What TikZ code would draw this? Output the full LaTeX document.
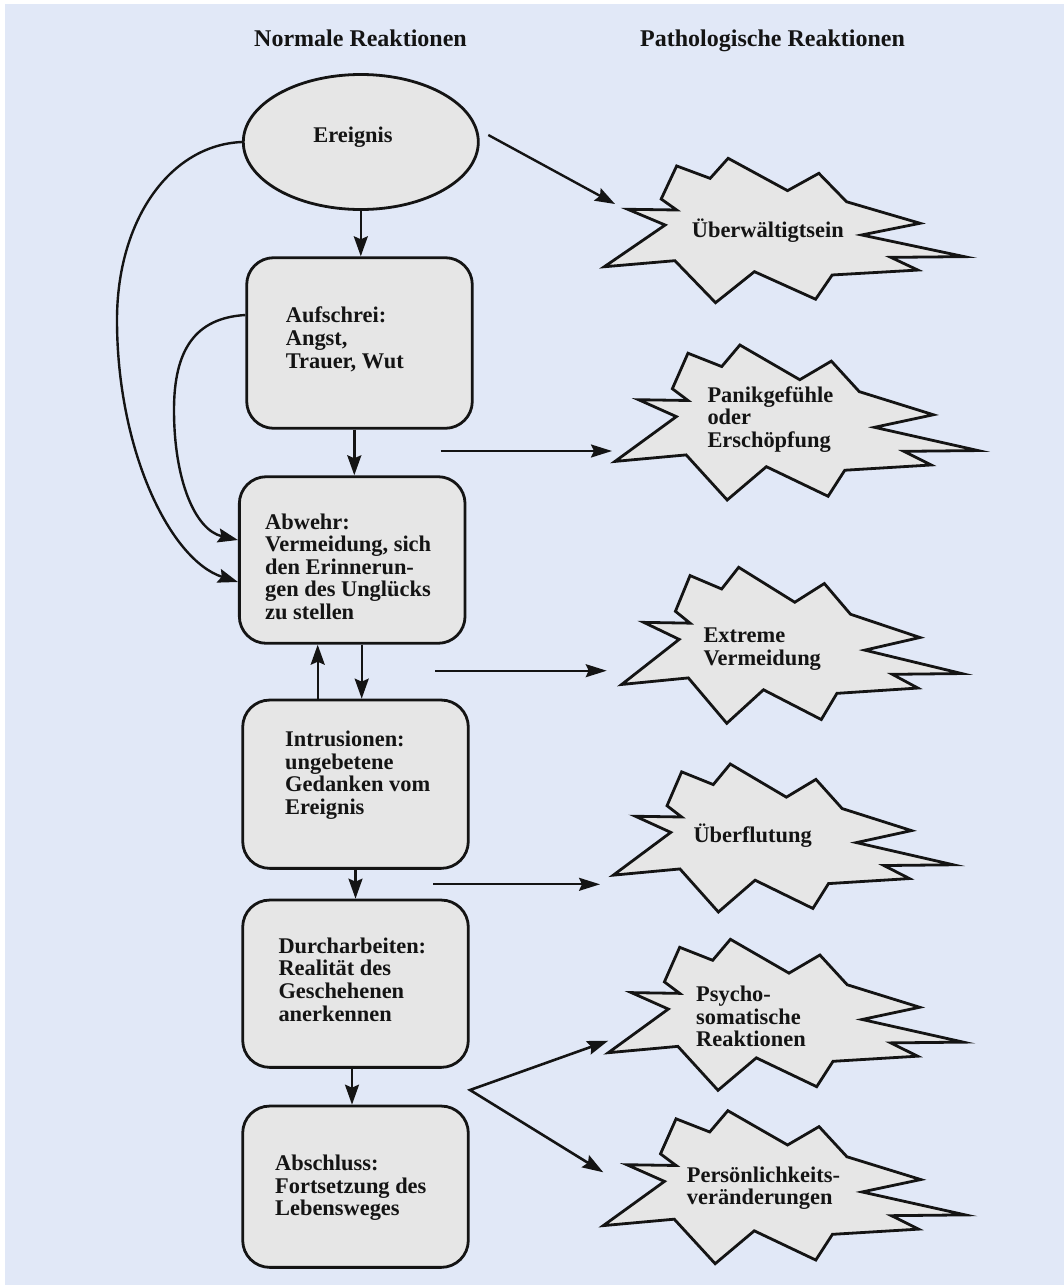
\documentclass[tikz,border=0pt]{standalone}
\usepackage{fontspec}
\setmainfont{Liberation Serif}
\usetikzlibrary{arrows.meta,shapes.geometric}
\definecolor{bgblue}{RGB}{225,232,247}
\definecolor{boxgray}{RGB}{230,230,230}
\definecolor{ink}{RGB}{20,20,20}

% starburst outline: #1 left, #2 top, #3 width, #4 height (all in pt, y downwards)
\newcommand\starburst[4]{%
  \begin{scope}[shift={(#1,#2)}, x=#3pt, y=-#4pt]
    \draw[burstline] (0.201,0.053) -- (0.294,0.139) -- (0.344,0) -- (0.509,0.224)
      -- (0.596,0.104) -- (0.673,0.301) -- (0.877,0.450) -- (0.715,0.531)
      -- (1,0.681) -- (0.796,0.686) -- (0.871,0.774) -- (0.633,0.808)
      -- (0.587,0.976) -- (0.417,0.785) -- (0.309,1) -- (0.196,0.709)
      -- (0,0.751) -- (0.169,0.462) -- (0.065,0.353) -- (0.201,0.358)
      -- (0.158,0.282) -- cycle;
  \end{scope}}

\begin{document}
\begin{tikzpicture}[x=1pt, y=-1pt,
  box/.style={draw=ink, line width=2.8pt, fill=boxgray, rounded corners=27pt, inner sep=0pt},
  txt/.style={font=\fontsize{22.4}{22.6}\selectfont\bfseries, text=ink, align=left, inner sep=0pt, anchor=west},
  head/.style={font=\fontsize{24}{26}\selectfont\bfseries, text=ink, inner sep=0pt, anchor=base west},
  arr/.style={draw=ink, line width=2.4pt, -{Stealth[length=20pt, width=14pt, inset=3pt]}},
  arrh/.style={draw=ink, line width=2pt, -{Stealth[length=21pt, width=13pt, inset=3pt]}},
  burstline/.style={draw=ink, fill=boxgray, line width=2.8pt, line join=miter},
]
\useasboundingbox (0,0) rectangle (1064,1285);
\fill[white] (0,0) rectangle (1064,1285);
\fill[bgblue] (5,4) rectangle (1064,1285);

% column headings
\node[head] (hnorm) at (254,46) {Normale Reaktionen};
\node[head] (hpath) at (640,46) {Pathologische Reaktionen};

% normal reactions
\node[draw=ink, ellipse, line width=2.8pt, fill=boxgray, minimum width=235pt,
      minimum height=135pt, inner sep=0pt] (ereignis) at (360.8,142) {};
\node[txt, anchor=center] (ereignis-t) at (353,137) {Ereignis};

\node[box, minimum width=225.6pt, minimum height=170.6pt] (aufschrei) at (359.5,343) {};
\node[txt] (aufschrei-t) at (285.7,339.3) {Aufschrei:\\Angst,\\Trauer, Wut};

\node[box, minimum width=225.7pt, minimum height=166.6pt] (abwehr) at (352.2,560) {};
\node[txt] (abwehr-t) at (265,566.7) {Abwehr:\\Vermeidung, sich\\den Erinnerun-\\gen des Unglücks\\zu stellen};

\node[box, minimum width=225.6pt, minimum height=168.3pt] (intrusionen) at (355.5,784.2) {};
\node[txt] (intrusionen-t) at (285,775) {Intrusionen:\\ungebetene\\Gedanken vom\\Ereignis};

\node[box, minimum width=225.6pt, minimum height=167.3pt] (durch) at (355.5,983.7) {};
\node[txt] (durch-t) at (278.3,979.5) {Durcharbeiten:\\Realität des\\Geschehenen\\anerkennen};

\node[box, minimum width=225.6pt, minimum height=161.3pt] (abschluss) at (355.5,1186.7) {};
\node[txt] (abschluss-t) at (275,1187.8) {Abschluss:\\Fortsetzung des\\Lebensweges};

% pathological reactions
\starburst{604.3}{158.3}{360}{144.4}
\starburst{615}{345}{363}{155}
\starburst{621.7}{567.3}{340}{156}
\starburst{613.3}{764}{340}{148}
\starburst{608.3}{939.3}{355}{151}
\starburst{603.3}{1110.7}{362}{153}

\node[txt] (ueberw) at (691.7,231) {Überwältigtsein};
\node[txt] (panik) at (707.3,419.3) {Panikgefühle\\oder\\Erschöpfung};
\node[txt] (extreme) at (703.3,649.2) {Extreme\\Vermeidung};
\node[txt] (ueberfl) at (693.3,836) {Überflutung};
\node[txt] (psycho) at (696,1016.5) {Psycho-\\somatische\\Reaktionen};
\node[txt] (pers) at (686.7,1188) {Persönlichkeits-\\veränderungen};

% free ends of the side arrows
\coordinate (a1s) at (488.3,135);   \coordinate (a1e) at (615,204);
\coordinate (a2s) at (440.7,451);   \coordinate (a2e) at (612,451);
\coordinate (a3s) at (435,670.7);   \coordinate (a3e) at (606.7,670.7);
\coordinate (a4s) at (433.3,884.3); \coordinate (a4e) at (600,884.3);
\coordinate (fork) at (470,1090);
\coordinate (a5e) at (608.3,1040.7); \coordinate (a6e) at (603.3,1172.3);

% main sequence
\draw[arr] (ereignis.south) -- (ereignis.south |- aufschrei.north);
\draw[arr] (354.3,0 |- aufschrei.south) -- (354.3,0 |- abwehr.north);
\draw[arr] (317.7,0 |- intrusionen.north) -- (317.7,0 |- abwehr.south);
\draw[arr] (361.7,0 |- abwehr.south) -- (361.7,0 |- intrusionen.north);
\draw[arr] (intrusionen.south) -- (intrusionen.south |- durch.north);
\draw[arr] (352,0 |- durch.south) -- (352,0 |- abschluss.north);

% bypass curves into Abwehr
\draw[arr] (ereignis.west) .. controls (170,145) and (117,220) .. (117,320)
  .. controls (117,450) and (170,560) .. (abwehr.west |- 0,582);
\draw[arr] (aufschrei.west |- 0,315) .. controls (195,318) and (174,350) .. (174,410)
  .. controls (174,480) and (195,530) .. (abwehr.west |- 0,540);

% arrows to the pathological reactions
\draw[arr] (a1s) -- (a1e);
\draw[arrh] (a2s) -- (a2e);
\draw[arrh] (a3s) -- (a3e);
\draw[arrh] (a4s) -- (a4e);
\draw[draw=ink, line width=2.6pt, line join=miter, {Stealth[length=21pt, width=14pt, inset=3pt]}-{Stealth[length=21pt, width=14pt, inset=3pt]}] (a5e) -- (fork) -- (a6e);
\end{tikzpicture}
\end{document}
